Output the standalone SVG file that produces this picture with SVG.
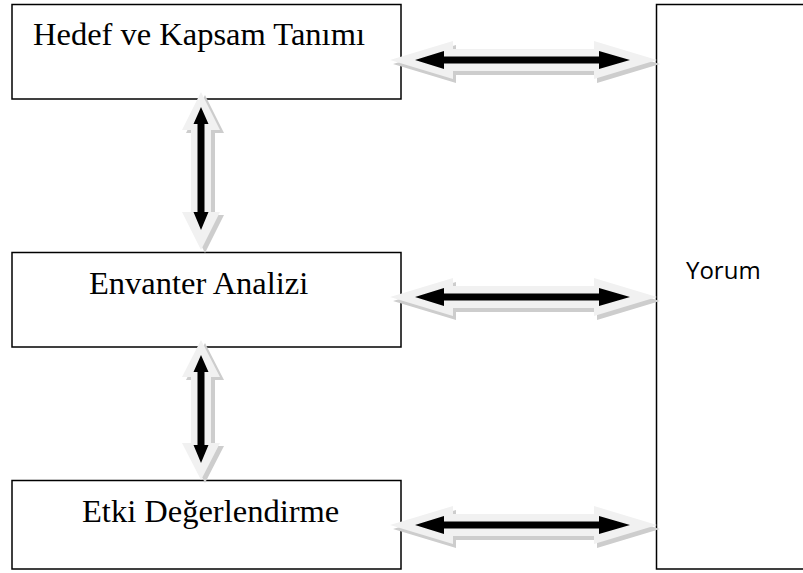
<svg xmlns="http://www.w3.org/2000/svg" width="803" height="573" viewBox="0 0 803 573">
<style>
.box{fill:#fff;stroke:#000;stroke-width:1.5}
.t{font-family:"Liberation Serif","Times New Roman",serif;font-size:32.5px;fill:#000}
.ts{font-family:"Open Sans","Liberation Sans",sans-serif;font-size:24px;fill:#000}
.outer{fill:#f1f1f1}
.shadow{fill:#cdcdcd}
.inner{fill:#000}
</style>
<defs>
<path id="hOuter" d="M0,0 L63,-19 L63,-11 L204,-11 L204,-19 L267,0 L204,19 L204,11 L63,11 L63,19 Z"/>
<path id="hInner" d="M25,0 L54,-9 L54,-3.5 L209,-3.5 L209,-9 L240,0 L209,9 L209,3.5 L54,3.5 L54,9 Z"/>
</defs>
<g id="node-hedef">
<rect class="box" x="12" y="4.5" width="389" height="94.5"/>
<text class="t" x="33" y="45">Hedef ve Kapsam Tanımı</text>
</g>
<g id="node-envanter">
<rect class="box" x="12" y="252.5" width="389" height="94.5"/>
<text class="t" x="89" y="294">Envanter Analizi</text>
</g>
<g id="node-etki">
<rect class="box" x="12" y="480.5" width="389" height="88.5"/>
<text class="t" x="82" y="522">Etki Değerlendirme</text>
</g>
<g id="node-yorum">
<rect class="box" x="656.5" y="4.5" width="160" height="564.5"/>
<text class="ts" x="686" y="279">Yorum</text>
</g>
<g id="connectors">
<g transform="translate(390,60)">
<use href="#hOuter" class="shadow" transform="translate(3,4)"/>
<use href="#hOuter" class="outer"/>
<use href="#hInner" class="inner"/>
</g>
<g transform="translate(390,297)">
<use href="#hOuter" class="shadow" transform="translate(3,4)"/>
<use href="#hOuter" class="outer"/>
<use href="#hInner" class="inner"/>
</g>
<g transform="translate(390,525)">
<use href="#hOuter" class="shadow" transform="translate(3,4)"/>
<use href="#hOuter" class="outer"/>
<use href="#hInner" class="inner"/>
</g>
<g id="v1">
<path class="shadow" transform="translate(4,3)" d="M201,92 L182,130 L191,130 L191,212 L182,212 L201,250 L220,212 L211,212 L211,130 L220,130 Z"/>
<path class="outer" d="M201,92 L182,130 L191,130 L191,212 L182,212 L201,250 L220,212 L211,212 L211,130 L220,130 Z"/>
<path class="inner" d="M201,107 L193.5,124 L197.5,124 L197.5,212 L193.5,212 L201,230 L208.5,212 L204.5,212 L204.5,124 L208.5,124 Z"/>
</g>
<g id="v2">
<path class="shadow" transform="translate(4,3)" d="M201,340 L182,377 L191,377 L191,443 L182,443 L201,480 L220,443 L211,443 L211,377 L220,377 Z"/>
<path class="outer" d="M201,340 L182,377 L191,377 L191,443 L182,443 L201,480 L220,443 L211,443 L211,377 L220,377 Z"/>
<path class="inner" d="M201,355 L193.5,372 L197.5,372 L197.5,445 L193.5,445 L201,463 L208.5,445 L204.5,445 L204.5,372 L208.5,372 Z"/>
</g>
</g>
</svg>
